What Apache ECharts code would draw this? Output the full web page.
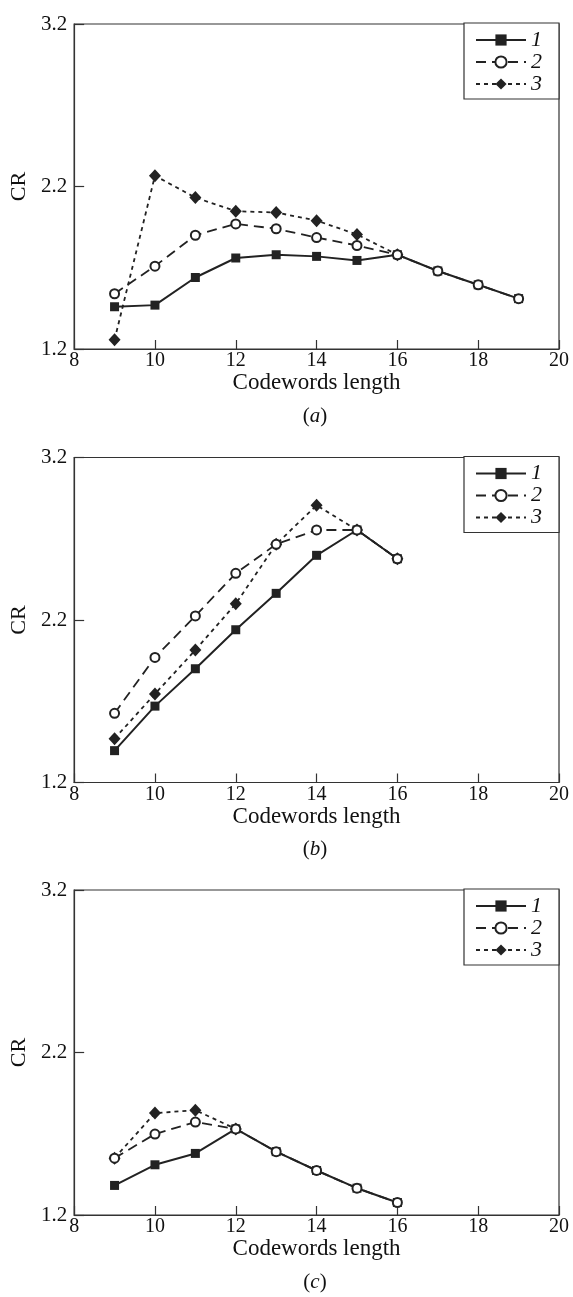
<!DOCTYPE html>
<html><head><meta charset="utf-8">
<script src="https://cdn.jsdelivr.net/npm/echarts@6/dist/echarts.min.js"></script>
<style>html,body{margin:0;padding:0;background:#fff}#c{width:573px;height:1297px}</style>
</head><body><div id="c"></div>
<script>
// ---- data ----
const seriesNames = ['1', '2', '3'];
const captions = ['a', 'b', 'c'];
const yTicks = [1.2, 2.2, 3.2];

// panel (a)
const aX1 = [9, 10, 11, 12, 13, 14, 15, 16, 17, 18, 19];
const aY1 = [1.46, 1.47, 1.64, 1.76, 1.78, 1.77, 1.745, 1.78, 1.68, 1.595, 1.51];
const aX2 = [9, 10, 11, 12, 13, 14, 15, 16, 17, 18, 19];
const aY2 = [1.54, 1.71, 1.90, 1.97, 1.94, 1.886, 1.837, 1.78, 1.68, 1.595, 1.51];
const aX3 = [9, 10, 11, 12, 13, 14, 15, 16];
const aY3 = [1.257, 2.266, 2.132, 2.048, 2.04, 1.99, 1.905, 1.78];

// panel (b)
const bX = [9, 10, 11, 12, 13, 14, 15, 16];
const bY1 = [1.396, 1.67, 1.90, 2.14, 2.364, 2.598, 2.754, 2.577];
const bY2 = [1.626, 1.97, 2.225, 2.487, 2.666, 2.754, 2.754, 2.577];
const bY3 = [1.47, 1.745, 2.015, 2.30, 2.666, 2.906, 2.754, 2.577];

// panel (c)
const cX = [9, 10, 11, 12, 13, 14, 15, 16];
const cY1 = [1.382, 1.509, 1.579, 1.73, 1.59, 1.474, 1.365, 1.277];
const cY2 = [1.55, 1.698, 1.772, 1.73, 1.59, 1.474, 1.365, 1.277];
const cX3 = [9, 10, 11, 12];
const cY3 = [1.55, 1.827, 1.845, 1.73];

const panels = [
  [[aX1, aY1], [aX2, aY2], [aX3, aY3]],
  [[bX, bY1], [bX, bY2], [bX, bY3]],
  [[cX, cY1], [cX, cY2], [cX3, cY3]]
];

// ---- styles ----
const FONT = 'Liberation Serif';
const INK = '#222';
const gridTops = [24, 457.5, 890];
const styles = [
  { symbol: 'rect', symbolSize: 9, lineStyle: { color: INK, width: 2, type: 'solid' }, itemStyle: { color: INK } },
  { symbol: 'circle', symbolSize: 9, lineStyle: { color: INK, width: 1.8, type: [10, 6] }, itemStyle: { color: '#fff', borderColor: INK, borderWidth: 2 } },
  { symbol: 'diamond', symbolSize: [12, 13], lineStyle: { color: INK, width: 1.8, type: [4, 4] }, itemStyle: { color: INK } }
];
const drawOrder = [0, 2, 1];

const grid = [], xAxis = [], yAxis = [], series = [], legend = [], graphic = [];
panels.forEach((panel, i) => {
  const top = gridTops[i];
  grid.push({ left: 71, width: 488, top: top, height: 325, show: true, borderColor: '#333', borderWidth: 1.2, backgroundColor: 'transparent' });
  xAxis.push({
    type: 'value', gridIndex: i, min: 8, max: 20, interval: 2,
    name: 'Codewords length', nameLocation: 'middle', nameGap: 18,
    nameTextStyle: { fontFamily: FONT, fontSize: 23, color: '#111' },
    axisLine: { lineStyle: { color: '#333', width: 1.2 } },
    axisTick: { inside: true, length: 9, lineStyle: { color: '#333', width: 1.2 } },
    axisLabel: { fontFamily: FONT, fontSize: 20, color: '#111', margin: 2, showMinLabel: true, showMaxLabel: true },
    splitLine: { show: false }
  });
  yAxis.push({
    type: 'value', gridIndex: i, min: 1.2, max: 3.2,
    name: 'CR', nameLocation: 'middle', nameGap: 38,
    nameTextStyle: { fontFamily: FONT, fontSize: 22, color: '#111' },
    axisLine: { lineStyle: { color: '#333', width: 1.2 } },
    axisTick: { inside: true, length: 10, customValues: yTicks, lineStyle: { color: '#333', width: 1.2 } },
    axisLabel: { fontFamily: FONT, fontSize: 21, color: '#111', margin: 7, customValues: yTicks, formatter: v => Number(v).toFixed(1), padding: [0, 0, 4, 0] },
    splitLine: { show: false }
  });
  drawOrder.forEach(k => {
    const [xs, ys] = panel[k];
    series.push(Object.assign({
      type: 'line', name: seriesNames[k], xAxisIndex: i, yAxisIndex: i,
      data: xs.map((x, j) => [x, ys[j]]),
      animation: false, silent: true
    }, styles[k]));
  });
  legend.push({
    data: seriesNames, orient: 'vertical', left: 464, top: top - 1,
    itemWidth: 50, itemHeight: 14, itemGap: 0,
    padding: [6, 17, 4, 11], borderColor: '#333', borderWidth: 1.2, borderRadius: 0,
    backgroundColor: '#fff', selectedMode: false,
    textStyle: { fontFamily: FONT, fontStyle: 'italic', fontSize: 22, lineHeight: 21, color: '#111' }
  });
  graphic.push({
    type: 'text', x: 315, y: top + 392,
    style: {
      text: '(' + '{i|' + captions[i] + '})', textAlign: 'center', textVerticalAlign: 'middle',
      fontFamily: FONT, fontSize: 21, fill: '#111',
      rich: { i: { fontFamily: FONT, fontStyle: 'italic', fontSize: 21, color: '#111' } }
    }
  });
});

const chart = echarts.init(document.getElementById('c'), null, { renderer: 'canvas' });
chart.setOption({ backgroundColor: '#fff', animation: false, grid, xAxis, yAxis, series, legend, graphic });
</script></body></html>
